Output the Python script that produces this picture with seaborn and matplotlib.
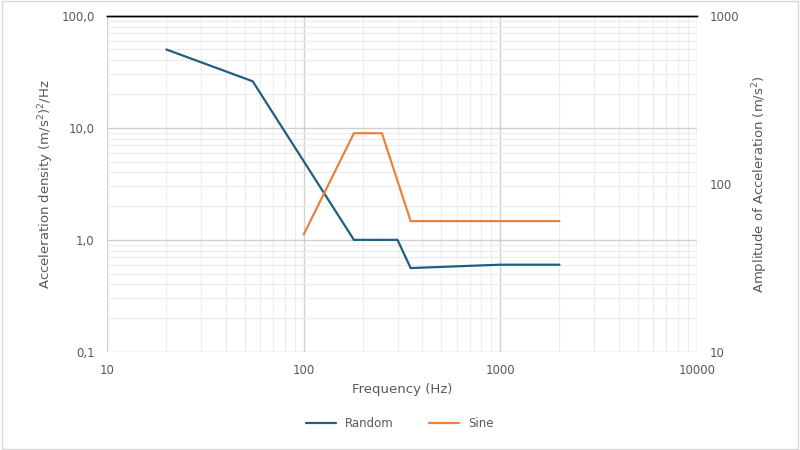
import numpy as np
import pandas as pd
import matplotlib.pyplot as plt
import matplotlib.ticker as mticker
import seaborn as sns

random_freq = [20, 55, 180, 300, 350, 1000, 2000]
random_psd = [50, 26, 1.0, 1.0, 0.56, 0.6, 0.6]
sine_freq = [100, 180, 250, 350, 2000]
sine_amp = [50, 200, 200, 60, 60]
left_ticks = [0.1, 1, 10, 100]
left_labels = ["0,1", "1,0", "10,0", "100,0"]

sns.set_theme(style="white")
plt.rcParams['font.family'] = ['DejaVu Sans']

blue = "#1f5f7f"
orange = "#e8823f"
txt = "#595959"

fig = plt.figure(figsize=(8, 4.5), dpi=100)
ax1 = fig.add_axes([0.134, 0.218, 0.737, 0.747])
ax2 = ax1.twinx()

df_r = pd.DataFrame({"f": random_freq, "v": random_psd})
df_s = pd.DataFrame({"f": sine_freq, "v": sine_amp})
sns.lineplot(data=df_r, x="f", y="v", ax=ax1, color=blue, linewidth=1.6, label="Random", legend=False)
sns.lineplot(data=df_s, x="f", y="v", ax=ax2, color=orange, linewidth=1.6, label="Sine", legend=False)

for ax in (ax1, ax2):
    ax.set_xscale("log")
    ax.set_xlim(10, 10000)
ax1.set_yscale("log")
ax1.set_ylim(0.1, 100)
ax2.set_yscale("log")
ax2.set_ylim(10, 1000)

ax1.set_yticks(left_ticks)
ax1.set_yticklabels(left_labels)
ax1.yaxis.set_minor_formatter(mticker.NullFormatter())
ax2.set_yticks([10, 100, 1000])
ax2.set_yticklabels(["10", "100", "1000"])
ax2.yaxis.set_minor_formatter(mticker.NullFormatter())
ax1.set_xticks([10, 100, 1000, 10000])
ax1.set_xticklabels(["10", "100", "1000", "10000"])
ax1.xaxis.set_minor_formatter(mticker.NullFormatter())

ax1.grid(True, which="major", color="#d0d0d0", linewidth=1.0)
ax1.grid(True, which="minor", color="#ececec", linewidth=0.8)
ax1.set_axisbelow(True)

for ax in (ax1, ax2):
    for s in ["left", "right", "bottom"]:
        ax.spines[s].set_visible(False)
    ax.spines["top"].set_color("black")
    ax.spines["top"].set_linewidth(1.0)
    ax.tick_params(which="both", length=0, labelsize=8.5, colors=txt, pad=9)

ax1.set_xlabel("Frequency (Hz)", fontsize=9.5, color=txt)
ax1.set_ylabel("Acceleration density (m/s$^2$)$^2$/Hz", fontsize=9.5, color=txt)
ax2.set_ylabel("Amplitude of Acceleration (m/s$^2$)", fontsize=9.5, color=txt, labelpad=8)

h1, l1 = ax1.get_legend_handles_labels()
h2, l2 = ax2.get_legend_handles_labels()
fig.legend(h1 + h2, l1 + l2, loc="lower center", bbox_to_anchor=(0.5, 0.02), ncol=2,
           frameon=False, fontsize=8.5, labelcolor=txt, handlelength=2.5, columnspacing=3)

fig.patches.append(plt.Rectangle((0.002, 0.002), 0.996, 0.996, transform=fig.transFigure,
                                 fill=False, edgecolor="#d9d9d9", linewidth=1))
fig.savefig("out.png", dpi=100)
